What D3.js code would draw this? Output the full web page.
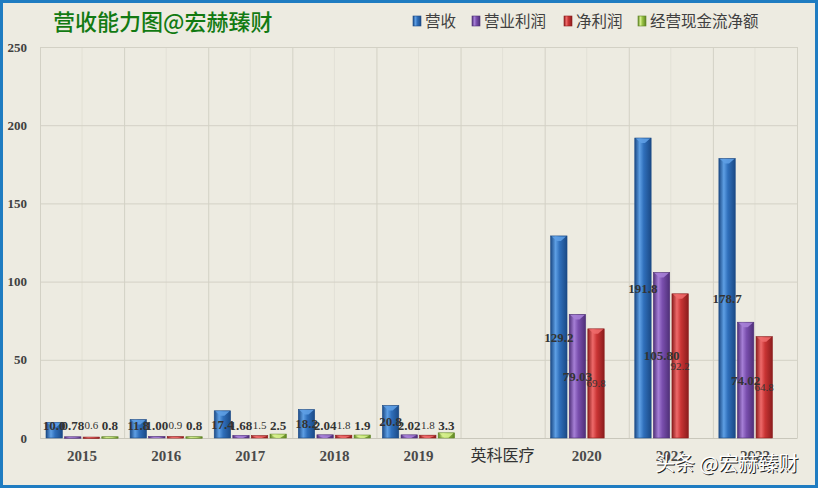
<!DOCTYPE html>
<html>
<head>
<meta charset="utf-8">
<script src="https://cdn.jsdelivr.net/npm/d3@7"></script>
<style>
  body { margin: 0; background: #edebe1; }
  svg { display: block; }
</style>
</head>
<body>
<svg id="chart"></svg>
<script>
////////////////// data ////////////////////
const categories = ["2015", "2016", "2017", "2018", "2019", "英科医疗", "2020", "2021", "2022"];
const seriesNames = ["营收", "营业利润", "净利润", "经营现金流净额"];
const revenue   = [10.0, 11.8, 17.4, 18.2, 20.8, null, 129.2, 191.8, 178.7];
const opProfit  = [0.78, 1.00, 1.68, 2.04, 2.02, null, 79.03, 105.80, 74.02];
const netProfit = [0.6, 0.9, 1.5, 1.8, 1.8, null, 69.8, 92.2, 64.8];
const cashFlow  = [0.8, 0.8, 2.5, 1.9, 3.3, null, null, null, null];
const yTicks = [0, 50, 100, 150, 200, 250];
const seriesValues = [revenue, opProfit, netProfit, cashFlow];
// decimals used in the labels of each series
const seriesDecimals = [1, 2, 1, 1];

////////////////// layout ////////////////////
const W = 818, H = 488;
const plot = { left: 40, right: 797, top: 47, bottom: 438 };
// colours: [edge, mid, highlight]
const seriesColors = [
    ["#1b4a86", "#2f6fbb", "#5e9fe4"],
    ["#4f2f78", "#7a4fae", "#a67fd6"],
    ["#8c1d1d", "#c93434", "#ee6a6a"],
    ["#5f8424", "#98c244", "#d6f08e"]
];

const svg = d3.select("#chart")
    .attr("width", W)
    .attr("height", H);

const defs = svg.append("defs");
seriesColors.forEach((c, i) => {
    const g = defs.append("linearGradient")
        .attr("id", `grad${i}`)
        .attr("x1", "0%").attr("x2", "100%")
        .attr("y1", "0%").attr("y2", "0%");
    g.append("stop").attr("offset", "0%").attr("stop-color", c[0]);
    g.append("stop").attr("offset", "30%").attr("stop-color", c[2]);
    g.append("stop").attr("offset", "55%").attr("stop-color", c[1]);
    g.append("stop").attr("offset", "100%").attr("stop-color", c[0]);
});

// background + frame
svg.append("rect")
    .attr("x", 1.5).attr("y", 1.5)
    .attr("width", W - 3).attr("height", H - 3)
    .attr("fill", "#edebe1")
    .attr("stroke", "#1f7cc1")
    .attr("stroke-width", 3);

////////////////// scales ////////////////////
const x = d3.scaleBand()
    .domain(categories)
    .range([plot.left, plot.right]);
const xSub = d3.scaleBand()
    .domain(d3.range(seriesNames.length))
    .range([6, x.bandwidth() - 6])
    .paddingInner(0.12);
const y = d3.scaleLinear()
    .domain([0, 250])
    .range([plot.bottom, plot.top]);

////////////////// grid ////////////////////
const grid = svg.append("g");
// minor vertical lines at category centres
grid.selectAll("line.minor")
    .data(categories)
    .enter().append("line")
    .attr("x1", d => x(d) + x.bandwidth() / 2)
    .attr("x2", d => x(d) + x.bandwidth() / 2)
    .attr("y1", plot.top).attr("y2", plot.bottom)
    .attr("stroke", "#e2e0d6")
    .attr("stroke-width", 1);
// major vertical lines at category boundaries
grid.selectAll("line.major")
    .data(categories.concat(["end"]))
    .enter().append("line")
    .attr("x1", (d, i) => plot.left + i * x.step() + 0.5)
    .attr("x2", (d, i) => plot.left + i * x.step() + 0.5)
    .attr("y1", plot.top).attr("y2", plot.bottom)
    .attr("stroke", "#d3d1c5")
    .attr("stroke-width", 1);

// y axis with horizontal grid
const yAxis = svg.append("g")
    .attr("transform", `translate(${plot.left},0)`)
    .call(d3.axisLeft(y).tickValues(yTicks).tickSize(-(plot.right - plot.left)).tickPadding(13));
yAxis.select(".domain").remove();
yAxis.selectAll("line")
    .attr("stroke", "#d3d1c5");
yAxis.selectAll("text")
    .attr("fill", "#404040")
    .style("font-family", "'Liberation Serif', 'Times New Roman', serif")
    .style("font-weight", "bold")
    .style("font-size", "13px");

// x axis
const xAxis = svg.append("g")
    .attr("transform", `translate(0,${plot.bottom})`)
    .call(d3.axisBottom(x).tickSize(0).tickPadding(12));
xAxis.select(".domain")
    .attr("stroke", "#c9c7bb");
xAxis.selectAll("text")
    .attr("fill", d => d === "英科医疗" ? "#333" : "#4a4a4a")
    .style("font-family", d => d === "英科医疗" ? "'Noto Sans CJK SC', sans-serif" : "'Liberation Serif', 'Times New Roman', serif")
    .style("font-weight", d => d === "英科医疗" ? "normal" : "bold")
    .style("font-size", d => d === "英科医疗" ? "16px" : "15px");

////////////////// bars ////////////////////
const barData = [];
seriesValues.forEach((vals, s) => {
    vals.forEach((v, i) => {
        if (v !== null) barData.push({ s: s, cat: categories[i], v: v });
    });
});

const bars = svg.append("g")
    .selectAll("g")
    .data(barData)
    .enter().append("g");
bars.append("rect")
    .attr("x", d => x(d.cat) + xSub(d.s))
    .attr("y", d => y(d.v))
    .attr("width", xSub.bandwidth())
    .attr("height", d => Math.max(1.5, y(0) - y(d.v)))
    .attr("fill", d => `url(#grad${d.s})`)
    .attr("stroke", d => seriesColors[d.s][0])
    .attr("stroke-width", 0.6);
// light cap on top of each bar
bars.append("path")
    .attr("d", d => {
        const x0 = x(d.cat) + xSub(d.s), w = xSub.bandwidth(), y0 = y(d.v);
        const h = Math.min(5, Math.max(1, y(0) - y0));
        return `M${x0 + 1},${y0 + 0.5} L${x0 + w - 1},${y0 + 0.5} L${x0 + w / 2 + 2},${y0 + h} L${x0 + w / 2 - 2},${y0 + h} Z`;
    })
    .attr("fill", d => seriesColors[d.s][2])
    .attr("opacity", 0.9);

////////////////// labels ////////////////////
svg.append("g")
    .selectAll("text")
    .data(barData)
    .enter().append("text")
    .attr("x", d => x(d.cat) + xSub(d.s) + xSub.bandwidth() / 2)
    .attr("y", d => Math.min(y(d.v / 2), 425))
    .attr("dy", "0.35em")
    .attr("text-anchor", "middle")
    .attr("fill", "#333")
    .style("font-family", "'Liberation Serif', 'Times New Roman', serif")
    .style("font-weight", d => d.s === 2 ? "normal" : "bold")
    .style("font-size", d => d.s === 2 ? "11px" : "13px")
    .text(d => d.v.toFixed(seriesDecimals[d.s]));

////////////////// title + legend ////////////////////
svg.append("text")
    .attr("x", 53)
    .attr("y", 30)
    .attr("fill", "#127a12")
    .style("font-family", "'Noto Sans CJK SC', sans-serif")
    .style("font-weight", "500")
    .style("font-size", "22px")
    .text("营收能力图@宏赫臻财");

const legendX = [413, 472, 564, 638];
const legend = svg.append("g")
    .selectAll("g")
    .data(seriesNames)
    .enter().append("g")
    .attr("transform", (d, i) => `translate(${legendX[i]},0)`);
legend.append("rect")
    .attr("x", 0).attr("y", 16)
    .attr("width", 8).attr("height", 10)
    .attr("fill", (d, i) => `url(#grad${i})`)
    .attr("stroke", (d, i) => seriesColors[i][0])
    .attr("stroke-width", 0.6);
legend.append("text")
    .attr("x", 12)
    .attr("y", 22)
    .attr("dy", "0.35em")
    .attr("fill", "#404040")
    .style("font-family", "'Noto Sans CJK SC', sans-serif")
    .style("font-size", "15.5px")
    .text(d => d);

////////////////// watermark ////////////////////
const wm = svg.append("g")
    .style("font-family", "'Noto Sans CJK SC', sans-serif")
    .style("font-size", "20px");
wm.append("text")
    .attr("x", 656).attr("y", 472)
    .attr("fill", "#222")
    .text("头条 @宏赫臻财");
wm.append("text")
    .attr("x", 655).attr("y", 471)
    .attr("fill", "#ffffff")
    .text("头条 @宏赫臻财");
</script>
</body>
</html>
